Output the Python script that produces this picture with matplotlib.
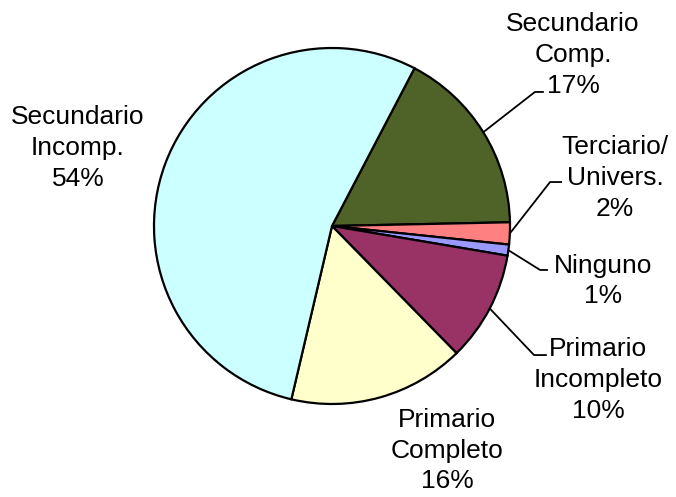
import numpy as np
import matplotlib
matplotlib.use("Agg")
import matplotlib.pyplot as plt

# datos (orden horario desde el sector "Secundario Comp.")
categorias = ["Secundario\nComp.", "Terciario/\nUnivers.", "Ninguno",
              "Primario\nIncompleto", "Primario\nCompleto", "Secundario\nIncomp."]
porcentajes = [17, 2, 1, 10, 16, 54]
colores = ["#4F6228", "#FF8080", "#9999FF", "#993366", "#FFFFCC", "#CCFFFF"]

plt.rcParams["font.family"] = ["Liberation Sans", "DejaVu Sans"]

W, H = 676, 497
cx, cy, r = 332, 226, 178
fig = plt.figure(figsize=(W / 100, H / 100), dpi=100)
ax = fig.add_axes([(cx - r) / W, (H - cy - r) / H, 2 * r / W, 2 * r / H])

wedges, _ = ax.pie(porcentajes, colors=colores, startangle=62.4, counterclock=False,
                   radius=1, wedgeprops=dict(edgecolor="black", linewidth=1.6))
ax.set_xlim(-1, 1)
ax.set_ylim(-1, 1)
ax.set_aspect("equal")
ax.axis("off")

# posiciones de etiquetas y codos de las lineas guia (coordenadas de datos)
pos_texto = [(1.354, 0.961), (1.590, 0.270), (1.522, -0.309),
             (1.494, -0.865), (0.646, -1.262), (-1.427, 0.438)]
codos = [((1.140, 0.753), (1.185, 0.753)),
         ((1.225, 0.247), (1.287, 0.247)),
         ((1.169, -0.247), (1.208, -0.247)),
         ((1.135, -0.725), (1.202, -0.725)),
         None, None]

for w, cat, p, (tx, ty), codo in zip(wedges, categorias, porcentajes, pos_texto, codos):
    ax.text(tx, ty, f"{cat}\n{p}%", ha="center", va="center", fontsize=19,
            linespacing=1.36)
    if codo is not None:
        ang = np.deg2rad((w.theta1 + w.theta2) / 2)
        x0, y0 = np.cos(ang), np.sin(ang)
        ax.plot([x0, codo[0][0], codo[1][0]], [y0, codo[0][1], codo[1][1]],
                color="black", linewidth=1.3, clip_on=False)

fig.savefig("out.png", dpi=100)
